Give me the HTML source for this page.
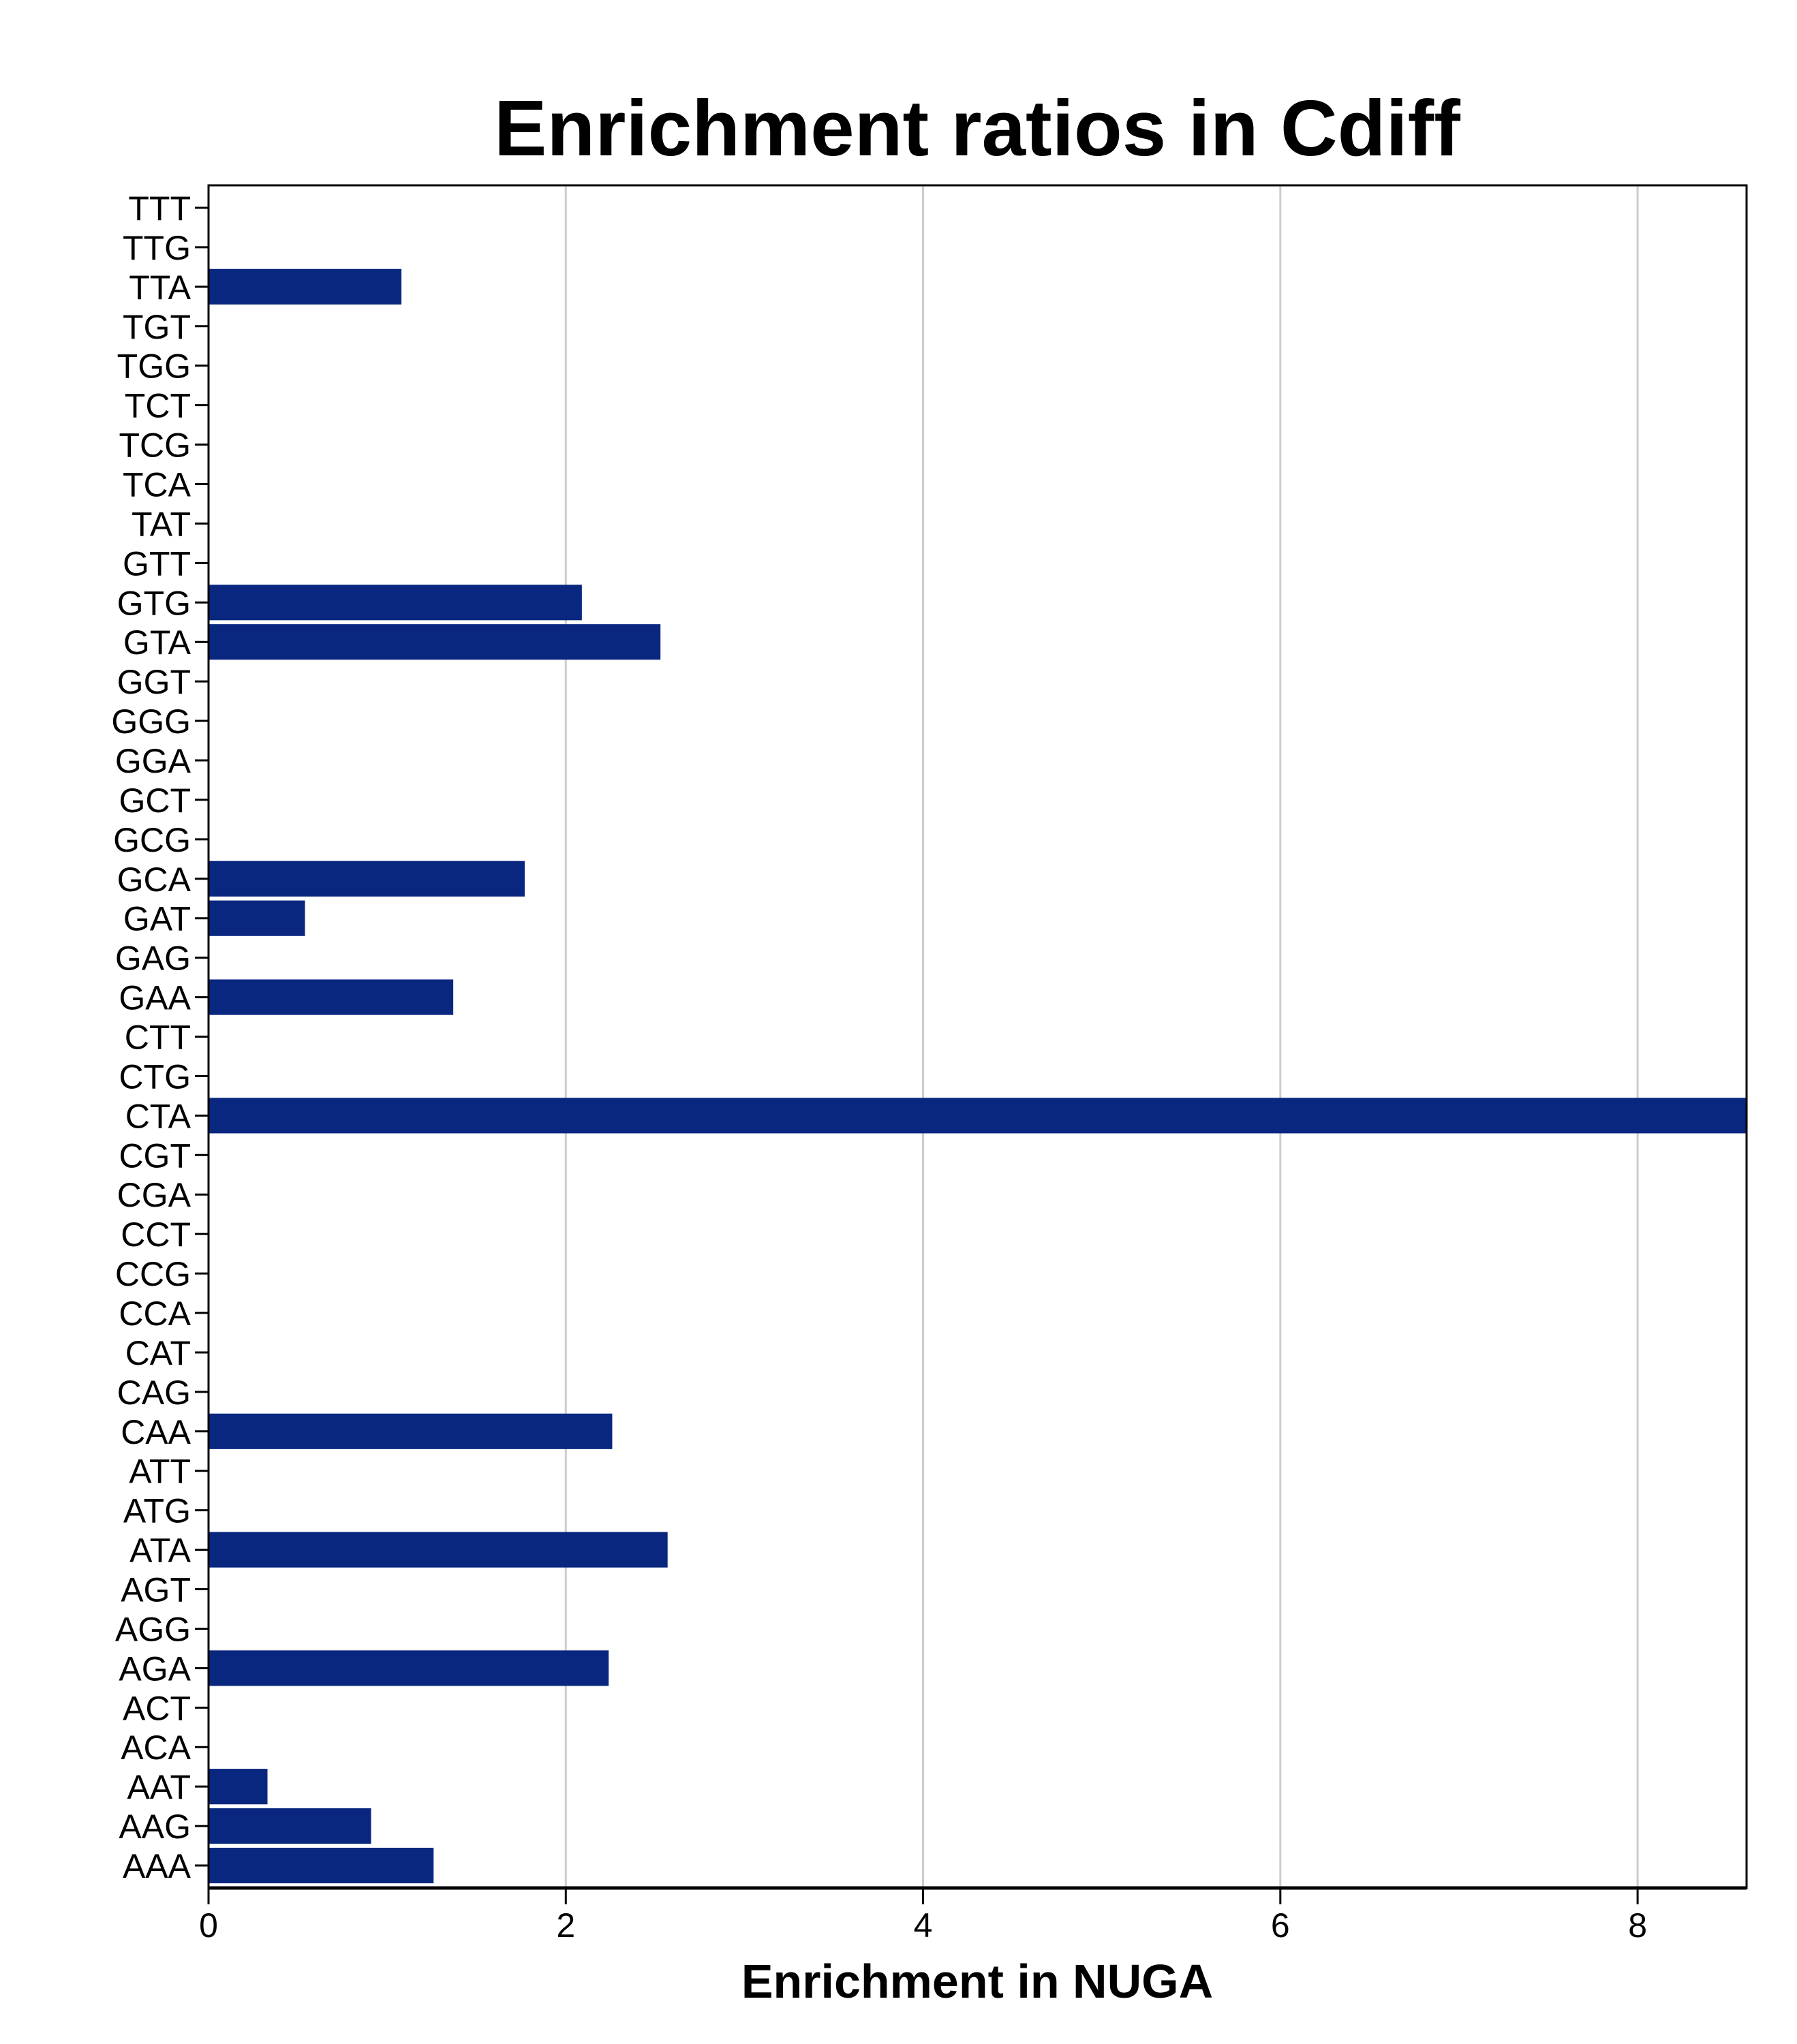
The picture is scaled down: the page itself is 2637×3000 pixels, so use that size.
<!DOCTYPE html>
<html><head><meta charset="utf-8"><style>html,body{margin:0;padding:0;background:#fff}svg{display:block}</style></head>
<body>
<svg id="chart" width="2637" height="3000" xmlns="http://www.w3.org/2000/svg" font-family="Liberation Sans, Arial, sans-serif">
<text x="1434" y="228" text-anchor="middle" font-size="116" font-weight="bold">Enrichment ratios in Cdiff</text>
<g id="grid"></g><g id="bars"></g><g id="axes"></g>
<text x="1434" y="2932" text-anchor="middle" font-size="70" font-weight="bold">Enrichment in NUGA</text>
</svg>
<script>
const categories = ["TTT","TTG","TTA","TGT","TGG","TCT","TCG","TCA","TAT","GTT","GTG","GTA","GGT","GGG","GGA","GCT","GCG","GCA","GAT","GAG","GAA","CTT","CTG","CTA","CGT","CGA","CCT","CCG","CCA","CAT","CAG","CAA","ATT","ATG","ATA","AGT","AGG","AGA","ACT","ACA","AAT","AAG","AAA"];
const values = [0,0,1.08,0,0,0,0,0,0,0,2.09,2.53,0,0,0,0,0,1.77,0.54,0,1.37,0,0,8.61,0,0,0,0,0,0,0,2.26,0,0,2.57,0,0,2.24,0,0,0.33,0.91,1.26];
const xTicks = [0,2,4,6,8];
const xMax = 8.61;
const L=306,R=2563,T=272,B=2771;
const PAD=4;
const NS="http://www.w3.org/2000/svg";
const xs=v=>L+(v/xMax)*(R-L);
const band=(B-T-2*PAD)/categories.length;
const yc=i=>T+PAD+band*(i+0.5);
function mk(tag,attrs,parent){const e=document.createElementNS(NS,tag);for(const k in attrs)e.setAttribute(k,attrs[k]);parent.appendChild(e);return e;}
const grid=document.getElementById('grid'),bars=document.getElementById('bars'),axes=document.getElementById('axes');
xTicks.forEach(t=>{
  if(t>0){const g=mk('line',{x1:xs(t),x2:xs(t),y1:T,y2:B,stroke:'#cccccc','stroke-width':3},grid);
  
  }
  const tk=mk('line',{x1:xs(t),x2:xs(t),y1:B,y2:B+24,stroke:'#000','stroke-width':3},axes);
  
  
  const tl=mk('text',{x:xs(t),y:B+72,'text-anchor':'middle','font-size':50},axes);tl.textContent=t;
  
  
});
categories.forEach((c,i)=>{
  if(values[i]>0){const r=mk('rect',{x:L,y:yc(i)-band*0.45,width:xs(values[i])-L,height:band*0.9,fill:'#0a2780'},bars);
  
  }
  const tk=mk('line',{x1:L-20,x2:L,y1:yc(i),y2:yc(i),stroke:'#000','stroke-width':3},axes);
  
  
  const tl=mk('text',{x:L-26,y:yc(i)+18,'text-anchor':'end','font-size':50},axes);tl.textContent=c;
  
  
});
const fr=mk('rect',{x:L,y:T,width:R-L,height:B-T,fill:'none',stroke:'#000','stroke-width':3},axes);


const xa=mk('line',{x1:L,x2:R,y1:B,y2:B,stroke:'#000','stroke-width':5},axes);


</script>
</body></html>
